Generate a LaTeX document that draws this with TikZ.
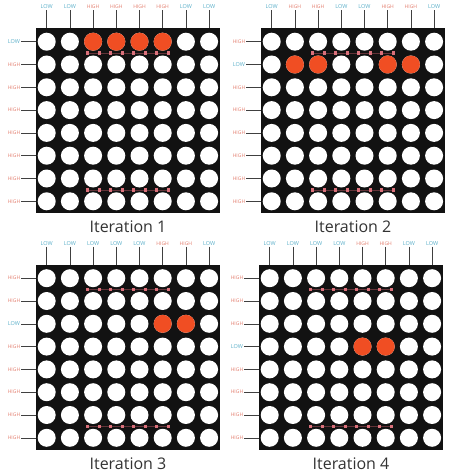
\documentclass[tikz,border=0pt]{standalone}
\usepackage{fontspec}
\setmainfont{Open Sans}
\usetikzlibrary{positioning}

\definecolor{ledred}{HTML}{F04E23}
\definecolor{lowblue}{HTML}{5BAFC9}
\definecolor{highred}{HTML}{E27B6B}
\definecolor{pinkdot}{HTML}{D9707A}

\tikzset{
    panelbg/.style={fill=black!93},
    led/.style={circle, fill=white, minimum size=18pt, inner sep=0pt},
    ledon/.style={led, fill=ledred},
    pinL/.style={text=lowblue, font=\fontsize{5.5}{5.5}\selectfont, inner sep=1pt},
    pinH/.style={text=highred, font=\fontsize{5}{5}\selectfont, inner sep=1pt},
    tick/.style={draw=black!75, line width=0.6pt},
    pinline/.style={draw=pinkdot!45!black, line width=0.5pt},
    pinsq/.style={fill=pinkdot},
    caption/.style={font=\fontsize{16}{16}\selectfont, text=black!80}
}

\newcommand{\pintext}[1]{\if L#1LOW\else HIGH\fi}

% #1 name, #2/#3 top left corner, #4 columns, #5 rows, #6 lit leds, #7 caption
\newcommand{\ledpanel}[7]{
    \begin{scope}[shift={(#2,#3)}]
        \fill[panelbg] (0,0) rectangle (184,185);
        % Columns
        \foreach \s [count=\i] in {#4} {
            \node[pin\s] (#1c\i) at ({10.7+23.2*(\i-1)},-21) {\pintext{\s}};
            \coordinate (#1ct\i) at ({10.7+23.2*(\i-1)},0);
            \draw[tick] (#1c\i) -- (#1ct\i);
        }
        % Rows
        \foreach \s [count=\j] in {#5} {
            \node[pin\s] (#1r\j) at (-22,{13.7+22.8*(\j-1)}) {\pintext{\s}};
            \coordinate (#1rt\j) at (0,{13.7+22.8*(\j-1)});
            \draw[tick] (#1r\j) -- (#1rt\j);
        }
        % LEDs
        \foreach \i in {1,...,8}
            \foreach \j in {1,...,8}
                \node[led] (#1l\i-\j) at ({10.7+23.2*(\i-1)},{13.7+22.8*(\j-1)}) {};
        \foreach \i/\j in {#6}
            \node[ledon] (#1on\i-\j) at ({10.7+23.2*(\i-1)},{13.7+22.8*(\j-1)}) {};
        % Pins
        \foreach \y in {25.1,161.9} {
            \draw[pinline] ({10.7+23.2*2-6},\y) -- ({10.7+23.2*5+6},\y);
            \foreach \i in {3,...,6}
                \foreach \d in {-6,6}
                    \fill[pinsq] ({10.7+23.2*(\i-1)+\d-1.6},{\y-1.6}) rectangle ++(3.2,3.2);
        }
        \node[caption] (#1t) at (92,199) {#7};
    \end{scope}
}

\begin{document}
\begin{tikzpicture}[x=1pt, y=-1pt]
    \useasboundingbox (0,0) rectangle (450,476);

    \ledpanel{a}{36}{28}{L,L,H,H,H,H,L,L}{L,H,H,H,H,H,H,H}{3/1,4/1,5/1,6/1}{Iteration 1}
    \ledpanel{b}{261}{28}{L,H,H,L,L,H,H,L}{H,L,H,H,H,H,H,H}{2/2,3/2,6/2,7/2}{Iteration 2}
    \ledpanel{c}{36}{264.5}{L,L,L,L,L,H,H,L}{H,H,L,H,H,H,H,H}{6/3,7/3}{Iteration 3}
    \ledpanel{d}{259}{264.5}{L,L,L,L,H,H,L,L}{H,H,H,L,H,H,H,H}{5/4,6/4}{Iteration 4}
\end{tikzpicture}
\end{document}
